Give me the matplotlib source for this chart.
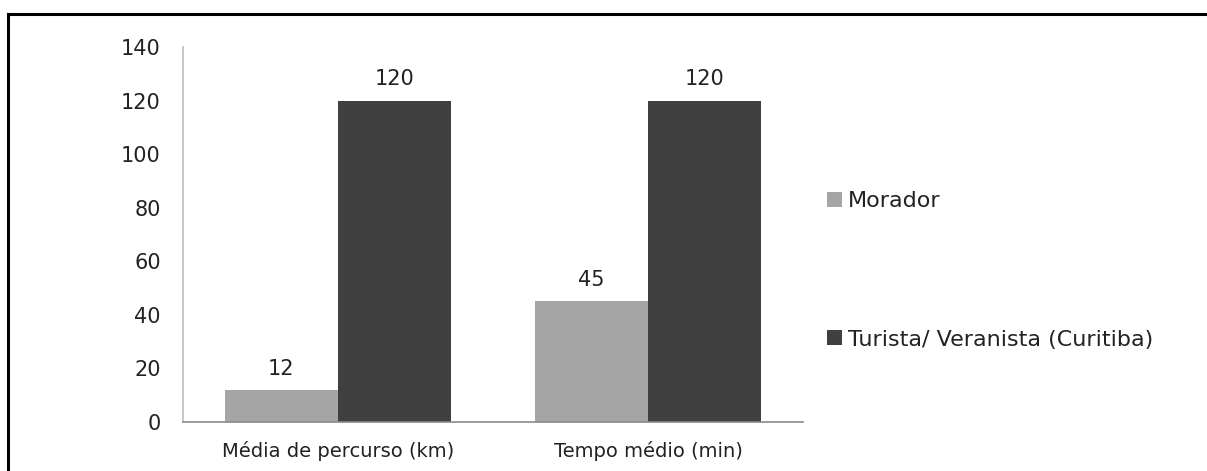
import numpy as np
import matplotlib.pyplot as plt
from matplotlib.lines import Line2D

plt.rcParams['font.family'] = ['DejaVu Sans']

categories = ['Média de percurso (km)', 'Tempo médio (min)']
series_names = ['Morador', 'Turista/ Veranista (Curitiba)']
morador = [12, 45]
turista = [120, 120]
colors = ['#A5A5A5', '#404040']
text_color = '#222222'

W, H = 1207, 471
fig = plt.figure(figsize=(W / 100, H / 100), dpi=100)
ax = fig.add_axes([183 / W, 1 - 422 / H, 620 / W, 375 / H])

x = np.arange(len(categories))
bw = 0.365
bars = []
for i, (vals, c) in enumerate(zip([morador, turista], colors)):
    b = ax.bar(x + (i - 0.5) * bw, vals, bw, color=c, label=series_names[i])
    bars.append(b)
    for rect, v in zip(b, vals):
        ax.annotate(str(v), (rect.get_x() + rect.get_width() / 2, v),
                    xytext=(0, 8), textcoords='offset points',
                    ha='center', va='bottom', fontsize=15, color=text_color)

ax.set_xlim(-0.5, 1.5)
ax.set_ylim(0, 140)
ax.set_yticks(range(0, 141, 20))
ax.set_xticks(x)
ax.set_xticklabels(categories, fontsize=14)
ax.tick_params(axis='y', labelsize=15)
ax.tick_params(axis='both', length=0, colors=text_color)
ax.tick_params(axis='y', pad=16)
ax.tick_params(axis='x', pad=14)
for s in ['top', 'right']:
    ax.spines[s].set_visible(False)
ax.spines['left'].set_color('#BDBDBD')
ax.spines['bottom'].set_color('#8A8A8A')
ax.spines['left'].set_linewidth(1.2)
ax.spines['bottom'].set_linewidth(1.2)

# legend on the right, entries spread apart vertically
leg = fig.legend(handles=[b[0] for b in bars], labels=series_names,
                 loc='upper left', bbox_to_anchor=(818 / W, 1 - 182 / H),
                 frameon=False, fontsize=16, handlelength=0.66, handleheight=0.66,
                 handletextpad=0.28, labelspacing=5.35, borderaxespad=0)
for t in leg.get_texts():
    t.set_color(text_color)

# outer frame: top and left edges only
fig.add_artist(Line2D([8 / W, 1.0], [1 - 14 / H, 1 - 14 / H], color='black', lw=2.2,
                      transform=fig.transFigure))
fig.add_artist(Line2D([8 / W, 8 / W], [1 - 14 / H, 0], color='black', lw=2.2,
                      transform=fig.transFigure))

fig.savefig('out.png', dpi=100)
